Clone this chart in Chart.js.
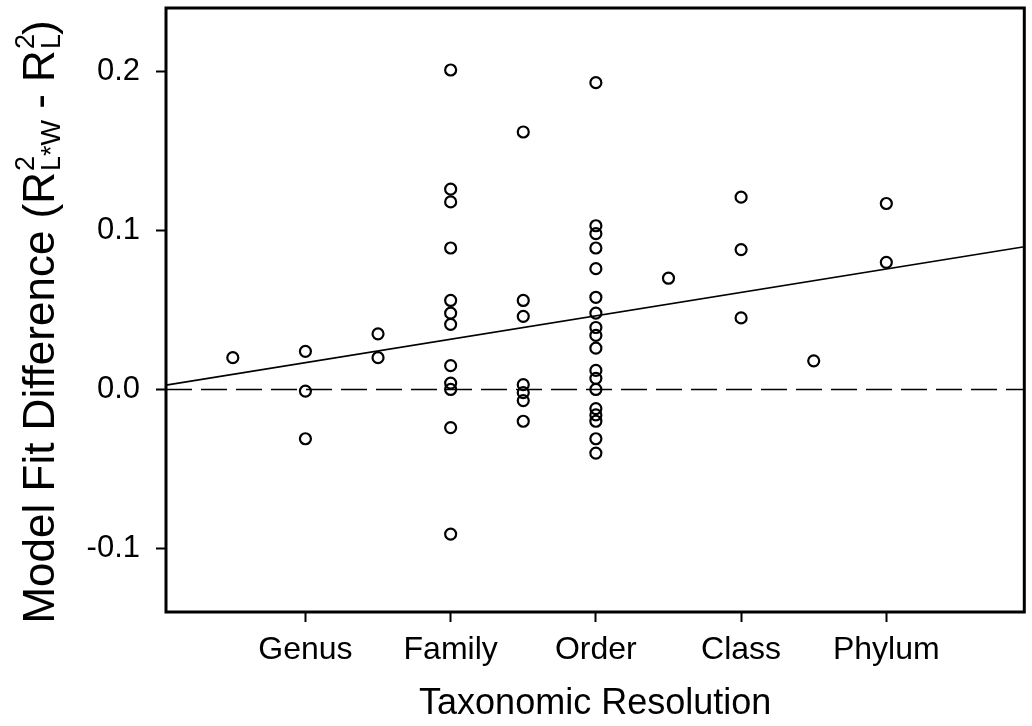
<!DOCTYPE html>
<html>
<head>
<meta charset="utf-8">
<script src="https://cdn.jsdelivr.net/npm/chart.js@4.4.1/dist/chart.umd.min.js"></script>
<style>
  html, body { margin: 0; padding: 0; background: #ffffff; }
  #wrap { width: 1032px; height: 726px; }
</style>
</head>
<body>
<div id="wrap"><canvas id="c" width="1032" height="726"></canvas></div>
<script>
// ---- data ----
const categories = ['Genus', 'Family', 'Order', 'Class', 'Phylum'];
const categoryPositions = [1, 2, 3, 4, 5];
const yTickValues = [-0.1, 0.0, 0.1, 0.2];
const yTickLabels = ['-0.1', '0.0', '0.1', '0.2'];

// observed differences, grouped by x position
const pos0_5 = [0.020];
const genusVals = [0.024, -0.001, -0.031];
const pos1_5 = [0.035, 0.020];
const familyVals = [0.201, 0.126, 0.118, 0.089, 0.056, 0.048, 0.041, 0.015, 0.004, 0.000, -0.024, -0.091];
const pos2_5 = [0.162, 0.056, 0.046, 0.003, -0.002, -0.007, -0.020];
const orderVals = [0.193, 0.103, 0.098, 0.089, 0.076, 0.058, 0.048, 0.039, 0.034, 0.026, 0.012, 0.007, 0.000, -0.012, -0.016, -0.020, -0.031, -0.040];
const pos3_5 = [0.070];
const classVals = [0.121, 0.088, 0.045];
const pos4_5 = [0.018];
const phylumVals = [0.117, 0.080];

const groupX = [0.5, 1, 1.5, 2, 2.5, 3, 3.5, 4, 4.5, 5];
const groupY = [pos0_5, genusVals, pos1_5, familyVals, pos2_5, orderVals, pos3_5, classVals, pos4_5, phylumVals];

// regression line end points and zero reference line
const fitX = [0.04, 5.95];
const fitY = [0.0027, 0.0898];
const zeroX = [0.04, 5.95];
const zeroY = [0, 0];

const xMin = 0.04, xMax = 5.95, yMin = -0.14, yMax = 0.24;

const yTitleParts = [
  { text: 'Model Fit Difference (R' },
  { sup: '2', sub: 'L*W' },
  { text: ' - R' },
  { sup: '2', sub: 'L' },
  { text: ')' }
];
const xTitleText = 'Taxonomic Resolution';

// ---- build library data ----
const points = [];
groupX.forEach((gx, i) => groupY[i].forEach(v => points.push({ x: gx, y: v })));
const fitData = fitX.map((x, i) => ({ x, y: fitY[i] }));
const zeroData = zeroX.map((x, i) => ({ x, y: zeroY[i] }));

const FONT = "'Liberation Sans', Arial, Helvetica, sans-serif";

const framePlugin = {
  id: 'frame',
  afterDraw(chart) {
    const { ctx, chartArea: a } = chart;
    ctx.save();
    ctx.strokeStyle = '#000';
    ctx.lineWidth = 3;
    ctx.strokeRect(a.left, a.top, a.right - a.left, a.bottom - a.top);
    ctx.restore();
  }
};

const yTitlePlugin = {
  id: 'yTitle',
  afterDraw(chart) {
    const { ctx } = chart;
    const mainFont = '44px ' + FONT;
    const smallFont = '27px ' + FONT;
    ctx.save();
    let total = 0;
    const widths = yTitleParts.map(p => {
      let w;
      if (p.text !== undefined) { ctx.font = mainFont; w = ctx.measureText(p.text).width; }
      else { ctx.font = smallFont; w = Math.max(ctx.measureText(p.sup).width, ctx.measureText(p.sub).width); }
      total += w;
      return w;
    });
    ctx.translate(54, 322);
    ctx.rotate(-Math.PI / 2);
    ctx.fillStyle = '#000';
    ctx.textBaseline = 'alphabetic';
    ctx.textAlign = 'left';
    let x = -total / 2;
    yTitleParts.forEach((p, i) => {
      if (p.text !== undefined) {
        ctx.font = mainFont;
        ctx.fillText(p.text, x, 0);
      } else {
        ctx.font = smallFont;
        ctx.fillText(p.sup, x + 1, -20);
        ctx.fillText(p.sub, x + 1, 6);
      }
      x += widths[i];
    });
    ctx.restore();
  }
};

new Chart(document.getElementById('c'), {
  type: 'scatter',
  data: {
    datasets: [
      {
        label: 'zero',
        type: 'line',
        data: zeroData,
        borderColor: '#000',
        borderWidth: 1.6,
        borderDash: [26, 9],
        pointRadius: 0,
        fill: false,
        showLine: true
      },
      {
        label: 'fit',
        type: 'line',
        data: fitData,
        borderColor: '#000',
        borderWidth: 1.6,
        pointRadius: 0,
        fill: false,
        showLine: true
      },
      {
        label: 'differences',
        data: points,
        pointStyle: 'circle',
        pointRadius: 5.5,
        pointBorderWidth: 2.2,
        borderColor: '#000',
        backgroundColor: 'rgba(0,0,0,0)',
        showLine: false
      }
    ]
  },
  options: {
    responsive: false,
    animation: false,
    devicePixelRatio: 1,
    layout: { padding: { top: 8, right: 2, left: 0, bottom: 0 } },
    plugins: {
      legend: { display: false },
      tooltip: { enabled: false }
    },
    scales: {
      x: {
        type: 'linear',
        min: xMin,
        max: xMax,
        border: { display: false },
        grid: { display: true, drawOnChartArea: false, drawTicks: true, tickLength: 10, tickWidth: 2, tickColor: '#000' },
        afterBuildTicks: s => { s.ticks = categoryPositions.map(v => ({ value: v })); },
        afterFit: s => { s.height = 114; s.paddingLeft = 0; s.paddingRight = 0; },
        ticks: {
          autoSkip: false,
          maxRotation: 0,
          padding: 9,
          color: '#000',
          font: { family: FONT, size: 32 },
          callback: v => categories[categoryPositions.indexOf(v)]
        },
        title: {
          display: true,
          text: xTitleText,
          color: '#000',
          font: { family: FONT, size: 36 },
          padding: { top: 0, bottom: 0 }
        }
      },
      y: {
        type: 'linear',
        min: yMin,
        max: yMax,
        border: { display: false },
        grid: { display: true, drawOnChartArea: false, drawTicks: true, tickLength: 10, tickWidth: 2, tickColor: '#000' },
        afterBuildTicks: s => { s.ticks = yTickValues.map(v => ({ value: v })); },
        afterFit: s => { s.width = 166; s.paddingTop = 0; s.paddingBottom = 0; },
        ticks: {
          padding: 16,
          color: '#000',
          font: { family: FONT, size: 31 },
          callback: v => yTickLabels[yTickValues.indexOf(v)]
        },
        title: { display: false }
      }
    }
  },
  plugins: [framePlugin, yTitlePlugin]
});
</script>
</body>
</html>
